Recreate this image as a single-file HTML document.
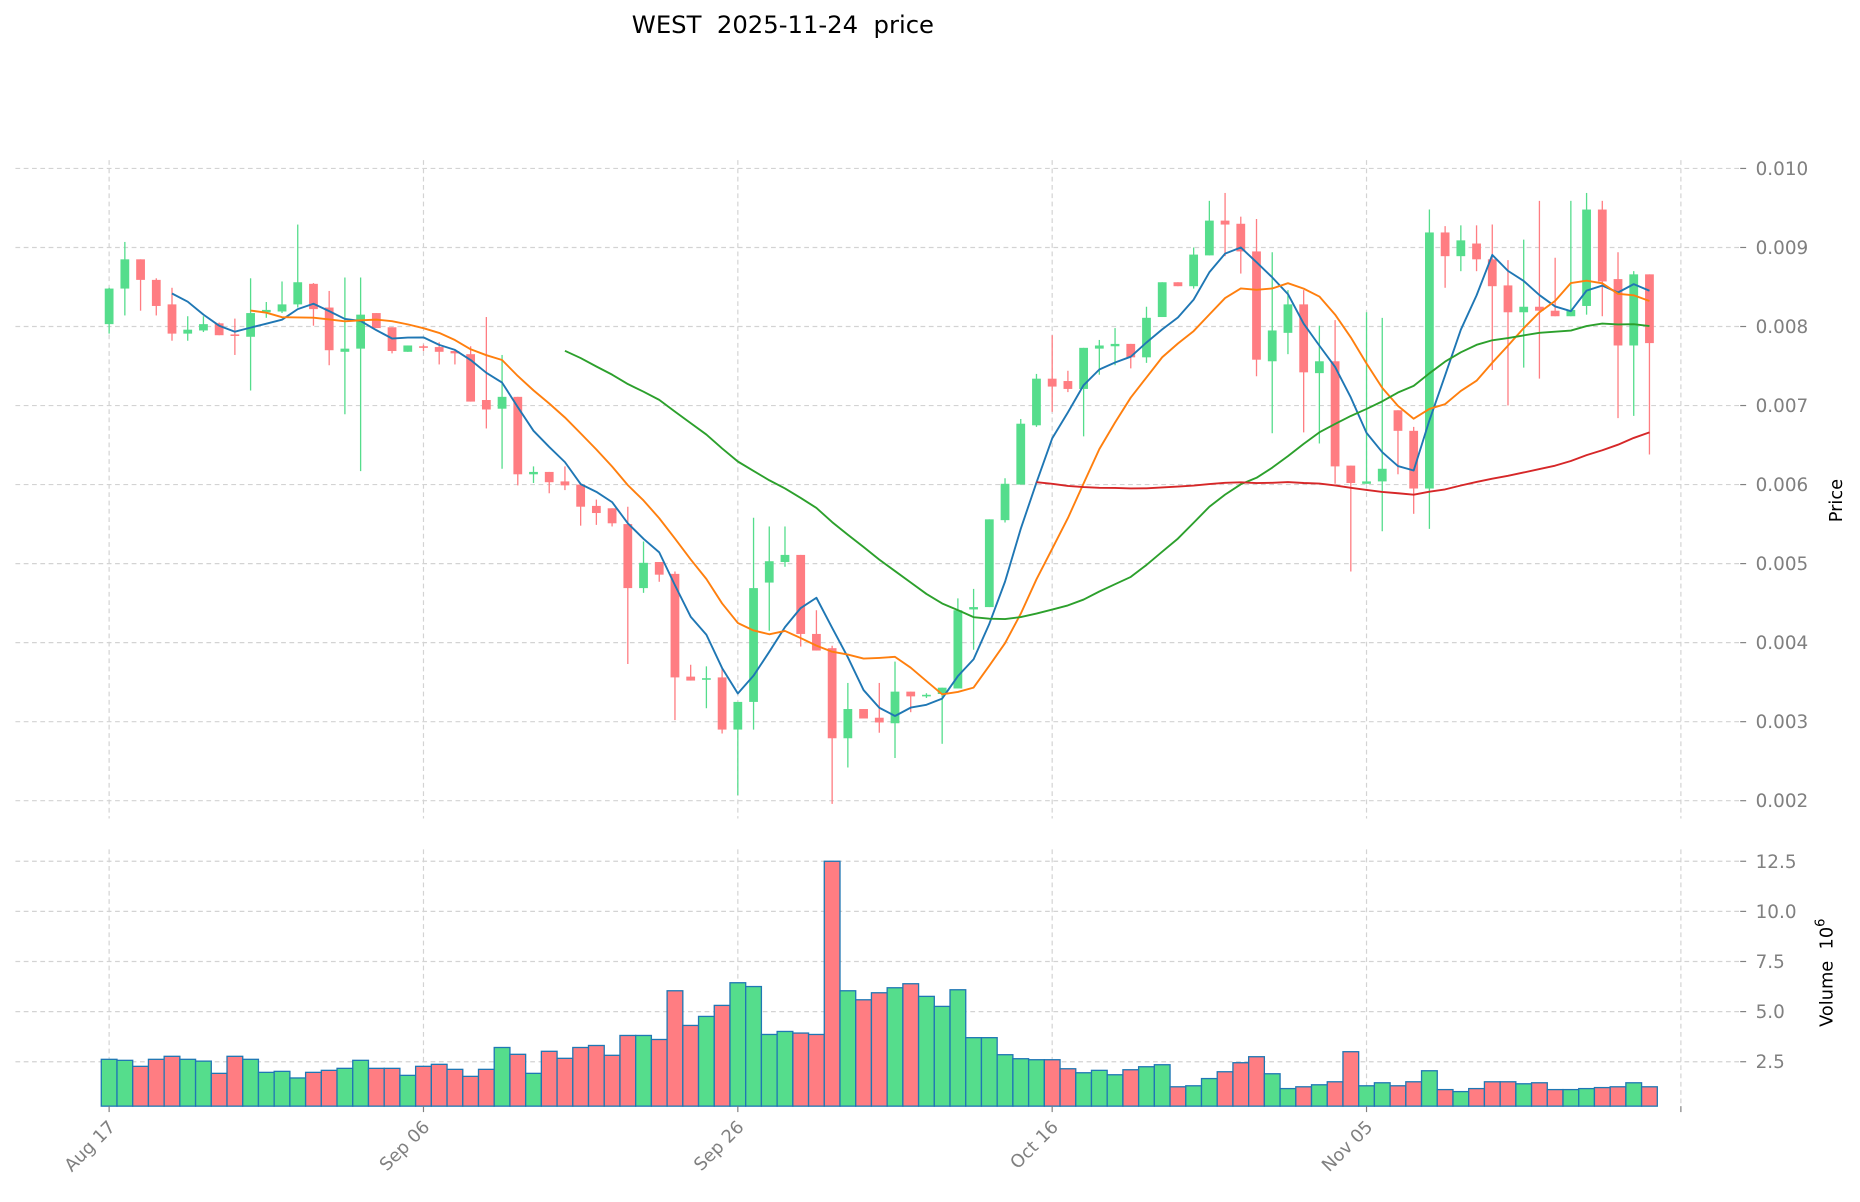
<!DOCTYPE html>
<html><head><meta charset="utf-8"><style>
html,body{margin:0;padding:0;background:#fff;}
svg{display:block;}
text{font-family:"DejaVu Sans","Liberation Sans",sans-serif;}
</style></head><body>
<svg id="chart" width="1860" height="1202" viewBox="0 0 1568 1013.3" preserveAspectRatio="none" xmlns="http://www.w3.org/2000/svg">
<text x="660" y="28" font-size="20.5" text-anchor="middle" fill="#000">WEST&#160;&#160;2025-11-24&#160;&#160;price</text>
<g id="grid"></g><g id="vol"></g><g id="candles"></g><g id="mas"></g><g id="axes"></g>
<text x="1553" y="422" font-size="15" text-anchor="middle" fill="#000" transform="rotate(-90 1553 422)">Price</text>
<text x="1545" y="820" font-size="15" text-anchor="middle" fill="#000" transform="rotate(-90 1545 820)">Volume&#160;&#160;10<tspan dy="-7" font-size="11">6</tspan></text>
</svg>
<script>
const dateTickLabels=["Aug 17","Sep 06","Sep 26","Oct 16","Nov 05"];
const dateTickIndex=[0,20,40,60,80];
const priceTicks=[0.002,0.003,0.004,0.005,0.006,0.007,0.008,0.009,0.010];
const priceTickLabels=["0.002","0.003","0.004","0.005","0.006","0.007","0.008","0.009","0.010"];
const volTicks=[2.5,5,7.5,10,12.5];
const volTickLabels=["2.5","5.0","7.5","10.0","12.5"];
// prices in units of 0.001
const openP=[8.03,8.48,8.85,8.59,8.28,7.91,7.95,8.04,7.90,7.87,8.18,8.19,8.28,8.54,8.24,7.68,7.72,8.17,7.99,7.68,7.75,7.74,7.69,7.65,7.07,6.96,7.11,6.13,6.16,6.04,6.00,5.73,5.70,5.50,4.69,5.02,4.87,3.57,3.53,3.56,2.90,3.25,4.76,5.02,5.11,4.11,3.93,2.79,3.16,3.05,2.98,3.38,3.32,3.35,3.42,4.42,4.45,5.55,6.00,6.75,7.34,7.31,7.21,7.72,7.75,7.78,7.61,8.12,8.56,8.51,8.90,9.34,9.30,8.95,7.56,7.92,8.28,7.41,7.56,6.24,6.01,6.04,6.94,6.68,5.95,9.19,8.89,9.05,8.85,8.52,8.18,8.25,8.20,8.13,8.26,9.48,8.60,7.76,8.66];
const highP=[8.49,9.07,8.85,8.61,8.49,8.13,8.13,8.05,8.10,8.61,8.31,8.57,9.29,8.55,8.45,8.62,8.62,8.17,7.99,7.76,7.77,7.80,7.71,7.75,8.12,7.64,7.11,6.23,6.16,6.23,6.00,5.81,5.70,5.72,5.28,5.02,4.90,3.72,3.70,3.67,3.25,5.58,5.47,5.47,5.11,4.41,3.96,3.49,3.16,3.49,3.76,3.38,3.36,3.43,4.56,4.68,5.56,6.08,6.83,7.40,7.89,7.44,7.73,7.83,7.98,7.78,8.25,8.56,8.56,9.00,9.59,9.69,9.39,9.36,8.94,8.46,8.46,8.01,8.08,6.24,8.18,8.11,6.94,6.73,9.48,9.27,9.28,9.28,9.29,8.84,9.10,9.59,8.87,9.59,9.69,9.59,8.94,8.70,8.66];
const lowP=[7.91,8.14,8.20,8.14,7.82,7.82,7.93,7.89,7.64,7.19,8.11,8.17,8.24,8.01,7.51,6.89,6.17,7.98,7.66,7.68,7.69,7.52,7.52,7.05,6.71,6.20,5.99,6.02,5.89,5.93,5.48,5.49,5.47,3.73,4.63,4.77,3.02,3.52,3.17,2.85,2.07,2.90,4.15,4.96,3.95,3.90,1.96,2.42,3.04,2.86,2.54,3.12,3.30,2.72,3.42,3.91,4.45,5.52,6.00,6.73,6.92,7.17,6.61,7.39,7.51,7.47,7.54,8.12,8.51,8.48,8.90,8.89,8.67,7.37,6.65,7.65,6.66,6.52,6.01,4.90,6.01,5.41,6.13,5.63,5.44,8.49,8.70,8.70,7.45,7.00,7.48,7.34,8.13,8.13,8.15,8.13,6.84,6.87,6.38];
const closeP=[8.48,8.85,8.59,8.26,7.91,7.96,8.03,7.89,7.88,8.17,8.21,8.28,8.56,8.22,7.70,7.72,8.15,7.98,7.69,7.76,7.73,7.68,7.66,7.05,6.95,7.11,6.13,6.16,6.03,5.99,5.72,5.64,5.51,4.69,5.01,4.86,3.56,3.52,3.55,2.90,3.25,4.69,5.03,5.11,4.11,3.90,2.79,3.16,3.04,2.99,3.38,3.32,3.34,3.43,4.41,4.45,5.56,6.01,6.77,7.34,7.24,7.21,7.73,7.76,7.78,7.61,8.11,8.56,8.51,8.91,9.34,9.29,8.95,7.58,7.95,8.28,7.42,7.56,6.23,6.02,6.04,6.20,6.68,5.95,9.19,8.89,9.09,8.85,8.51,8.18,8.25,8.20,8.13,8.21,9.48,8.57,7.76,8.66,7.79];
// volume in millions
const volumeM=[2.62,2.57,2.27,2.62,2.77,2.62,2.53,1.92,2.77,2.62,1.97,2.02,1.69,1.97,2.07,2.17,2.57,2.17,2.17,1.82,2.27,2.37,2.12,1.77,2.12,3.21,2.87,1.92,3.02,2.67,3.21,3.31,2.82,3.81,3.81,3.61,6.04,4.31,4.76,5.31,6.44,6.25,3.86,4.01,3.93,3.86,12.5,6.04,5.59,5.94,6.19,6.39,5.76,5.26,6.09,3.70,3.70,2.85,2.65,2.60,2.60,2.15,1.95,2.07,1.85,2.10,2.25,2.35,1.25,1.30,1.66,2.00,2.45,2.75,1.90,1.16,1.25,1.35,1.50,3.00,1.30,1.45,1.30,1.50,2.05,1.11,1.01,1.16,1.50,1.50,1.40,1.45,1.11,1.11,1.16,1.21,1.25,1.45,1.25];
const maPeriods=[5,10,30,60];
const maColors=["#1f77b4","#ff7f0e","#2ca02c","#d62728"];

const NS="http://www.w3.org/2000/svg";
const X0=92, DX=13.25, LEFT=13, RIGHT=1467;
const xs=i=>X0+DX*i;
const yP=p=>142+(0.010-p)*66625;
const yV=v=>937.3-v*16.9;
const P_TOP=135, P_BOT=690, V_TOP=716, V_BOT=932.5;
const GREEN="#55dd8c", RED="#ff7d82";
function mk(tag,attrs,parent){const e=document.createElementNS(NS,tag);for(const k in attrs)e.setAttribute(k,attrs[k]);parent.appendChild(e);return e;}
const grid=document.getElementById('grid'),vol=document.getElementById('vol'),cg=document.getElementById('candles'),mg=document.getElementById('mas'),ax=document.getElementById('axes');
priceTicks.forEach((t,k)=>{
  const y=yP(t);
  const l=mk('line',{x1:LEFT,x2:RIGHT,y1:y,y2:y,stroke:"#d3d3d3","stroke-width":1,"stroke-dasharray":"4,3"},grid);
  
  const tk=mk('line',{x1:RIGHT,x2:RIGHT+5,y1:y,y2:y,stroke:"#808080","stroke-width":1},ax);
  
  const tx=mk('text',{x:RIGHT+13,y:y+5.5,"font-size":15.5,fill:"#808080"},ax);tx.textContent=priceTickLabels[k];
  
});
volTicks.forEach((t,k)=>{
  const y=yV(t);
  const l=mk('line',{x1:LEFT,x2:RIGHT,y1:y,y2:y,stroke:"#d3d3d3","stroke-width":1,"stroke-dasharray":"4,3"},grid);
  
  const tk=mk('line',{x1:RIGHT,x2:RIGHT+5,y1:y,y2:y,stroke:"#808080","stroke-width":1},ax);
  
  const tx=mk('text',{x:RIGHT+13,y:y+5.5,"font-size":15.5,fill:"#808080"},ax);tx.textContent=volTickLabels[k];
  
});
const allTicks=dateTickIndex.concat([100]);
allTicks.forEach((d,k)=>{
  const x=xs(d);
  [[P_TOP,P_BOT],[V_TOP,V_BOT]].forEach(r=>{
    const l=mk('line',{x1:x,x2:x,y1:r[0],y2:r[1],stroke:"#d3d3d3","stroke-width":1,"stroke-dasharray":"4,3"},grid);
    
  });
  const tk=mk('line',{x1:x,x2:x,y1:V_BOT,y2:V_BOT+5,stroke:"#808080","stroke-width":1},ax);
  
  if(k<dateTickLabels.length){
    const tx=mk('text',{x:x+6,y:951,"font-size":15,fill:"#808080","text-anchor":"end",transform:`rotate(-45 ${x+6} 951)`},ax);
    tx.textContent=dateTickLabels[k];
    
  }
});
volumeM.forEach((v,i)=>{
  const up=closeP[i]>=openP[i];
  const y=yV(v);
  const r=mk('rect',{x:xs(i)-DX/2,y:y,width:DX,height:Math.max(0,V_BOT-y),fill:up?GREEN:RED,stroke:"#1f77b4","stroke-width":1.1},vol);
  
});
const BW=7.4;
openP.forEach((o,i)=>{
  const c=closeP[i],h=highP[i],l=lowP[i],up=c>=o,col=up?GREEN:RED,x=xs(i);
  const w=mk('line',{x1:x,x2:x,y1:yP(h/1000),y2:yP(l/1000),stroke:col,"stroke-width":1.1},cg);
  
  const top=yP(Math.max(o,c)/1000),bot=yP(Math.min(o,c)/1000);
  const b=mk('rect',{x:x-BW/2,y:top,width:BW,height:Math.max(1,bot-top),fill:col},cg);
  
});
maPeriods.forEach((n,k)=>{
  const pts=[];
  for(let i=n-1;i<closeP.length;i++){
    let s=0;for(let j=i-n+1;j<=i;j++)s+=closeP[j];
    pts.push(xs(i).toFixed(2)+","+yP(s/n/1000).toFixed(2));
  }
  const pl=mk('polyline',{points:pts.join(" "),fill:"none",stroke:maColors[k],"stroke-width":1.6,"stroke-linejoin":"round"},mg);
  
});
</script>
</body></html>
